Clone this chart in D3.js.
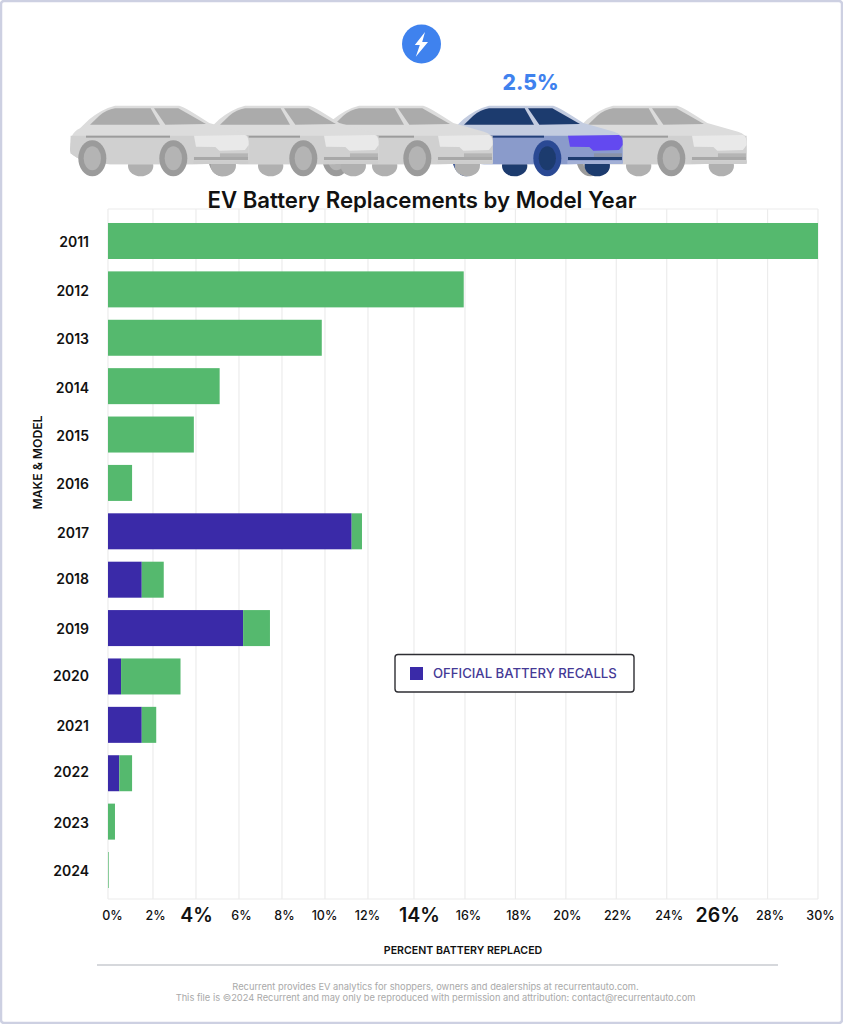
<!DOCTYPE html>
<html>
<head>
<meta charset="utf-8">
<script src="https://cdn.jsdelivr.net/npm/d3@7"></script>
<style>
html,body{margin:0;padding:0;background:#fff;}
svg{display:block;}
text{font-family:Inter,"Open Sans",sans-serif;}
</style>
</head>
<body>
<svg id="chart" width="843" height="1024"></svg>
<script>
const modelYears = ["2011","2012","2013","2014","2015","2016","2017","2018","2019","2020","2021","2022","2023","2024"];
const officialRecalls = [0,0,0,0,0,0,11.24,1.5,6.19,0.58,1.5,0.5,0,0];
const otherReplacements = [30,15.95,9.85,5.1,3.9,1.07,0.48,1.0,1.25,2.7,0.65,0.57,0.31,0.03];
const percentTicks = [0,2,4,6,8,10,12,14,16,18,20,22,24,26,28,30];
const emphasisedTicks = [4,14,26];
const highlightValue = "2.5%";
const titleText = "EV Battery Replacements by Model Year";
const legendText = "OFFICIAL BATTERY RECALLS";
const xTitle = "PERCENT BATTERY REPLACED";
const yTitle = "MAKE & MODEL";
const footerLines = ["Recurrent provides EV analytics for shoppers, owners and dealerships at recurrentauto.com.",
  "This file is ©2024 Recurrent and may only be reproduced with permission and attribution: contact@recurrentauto.com"];

const svg = d3.select("#chart");
const defs = svg.append("defs");
defs.append("filter").attr("id","soft").append("feGaussianBlur").attr("stdDeviation",1.6);

// page frame
svg.append("rect").attr("x",1).attr("y",1).attr("width",841).attr("height",1022).attr("rx",3)
  .attr("fill","#fff").attr("stroke","#cdd0e2").attr("stroke-width",2.5);

// scales: the source's x axis is not evenly spaced, its segments differ
const x = d3.scaleLinear().domain([0,2,12,14,16,30]).range([108,153,368,414,465,818]);
const y = d3.scaleBand().domain(modelYears).range([216.8,894.2]).paddingInner(0.256).paddingOuter(0.128);

// grid
const plotTop = 209, plotBottom = 899;
const grid = svg.append("g");
grid.selectAll("line.v").data(percentTicks).join("line").attr("class","v")
  .attr("x1",d=>x(d)).attr("x2",d=>x(d)).attr("y1",plotTop).attr("y2",plotBottom)
  .attr("stroke","#ececec").attr("stroke-width",1.2);
grid.selectAll("line.h").data([plotTop,plotBottom]).join("line").attr("class","h")
  .attr("x1",x(0)).attr("x2",x(30)).attr("y1",d=>d).attr("y2",d=>d)
  .attr("stroke","#ececec").attr("stroke-width",1.2);

// bars
const rows = modelYears.map((year,i)=>({year,recall:officialRecalls[i],other:otherReplacements[i]}));
const stacked = d3.stack().keys(["recall","other"])(rows);
const fills = {recall:"#3a2aa8",other:"#55b96e"};
svg.append("g").selectAll("g").data(stacked).join("g").attr("fill",s=>fills[s.key])
  .selectAll("rect").data(s=>s.filter(d=>d[1]>d[0])).join("rect")
  .attr("x",d=>x(d[0])).attr("width",d=>x(d[1])-x(d[0]))
  .attr("y",d=>y(d.data.year)).attr("height",y.bandwidth());

// y axis
const yNudge = {"2018":-2,"2019":-1,"2020":-2,"2022":-3};
const yAxis = svg.append("g").attr("transform",`translate(${x(0)},0)`).call(d3.axisLeft(y).tickSize(0).tickPadding(19));
yAxis.select(".domain").remove();
yAxis.selectAll("text").attr("transform",d=>`translate(0,${2+(yNudge[d]||0)})`)
  .attr("font-size",14).attr("font-weight",600).attr("fill","#111").style("font-family","Inter");

// x axis
const labelNudge = {0:4,2:2,4:0,6:2,8:2,10:-1,12:-1,14:5,16:3,18:3,20:1,22:1,24:2,26:0,28:2,30:2};
const xAxis = svg.append("g").attr("transform",`translate(0,${plotBottom})`)
  .call(d3.axisBottom(x).tickValues(percentTicks).tickFormat(d=>d+"%").tickSize(0).tickPadding(0));
xAxis.select(".domain").remove();
xAxis.selectAll("text")
  .attr("dy",null).attr("dominant-baseline","central")
  .attr("y",16).attr("dx",d=>labelNudge[d])
  .attr("font-size",d=>emphasisedTicks.includes(d)?19.5:12.5)
  .attr("font-weight",d=>emphasisedTicks.includes(d)?600:500)
  .attr("fill","#111").style("font-family","Inter");

svg.append("text").attr("x",463).attr("y",950).attr("text-anchor","middle").attr("dominant-baseline","central")
  .attr("font-size",10.6).attr("font-weight",600).attr("fill","#111").text(xTitle);
svg.append("text").attr("transform","translate(37,462.5) rotate(-90)").attr("text-anchor","middle").attr("dominant-baseline","central")
  .attr("font-size",12.2).attr("font-weight",600).attr("fill","#111").text(yTitle);

// legend
const legend = svg.append("g");
legend.append("rect").attr("x",395).attr("y",654.5).attr("width",239).attr("height",37.5).attr("rx",3)
  .attr("fill","#fff").attr("stroke","#2e2e33").attr("stroke-width",1.4);
legend.append("rect").attr("x",410).attr("y",667).attr("width",13).attr("height",13).attr("fill",fills.recall);
legend.append("text").attr("x",433).attr("y",673).attr("dominant-baseline","central")
  .attr("font-size",13.15).attr("font-weight",500).attr("fill","#453a96").text(legendText);

// footer
svg.append("line").attr("x1",97).attr("x2",778).attr("y1",965).attr("y2",965).attr("stroke","#c9cbd0").attr("stroke-width",1.3);
svg.selectAll("text.foot").data(footerLines).join("text").attr("class","foot")
  .attr("x",435.5).attr("y",(d,i)=>986+i*11.2).attr("text-anchor","middle").attr("dominant-baseline","central")
  .attr("font-size",9.3).attr("fill","#a9a9a9").text(d=>d);

// badge
const badge = svg.append("g").attr("transform","translate(421.5,44)");
badge.append("circle").attr("r",19.5).attr("fill","#3f82ee");
badge.append("path").attr("d","M3.5,-12 L-6.7,1 L-1.7,1 L-5.7,12.7 L6.5,-2 L0.7,-2 Z").attr("fill","#fff");
svg.append("text").attr("x",530.5).attr("y",82).attr("text-anchor","middle").attr("dominant-baseline","central")
  .attr("font-size",21).attr("font-weight",800).attr("fill","#3f82ee").text(highlightValue);

// car illustration, drawn in a 600x270 box at one third scale
const greyCar = {far:"#b0b0b0",top:"#dcdcdc",body:"#d0d0d0",glass:"#ababab",stripe:"#9c9c9c",lamp:"#e9e9e9",grille:"#b5b5b5",trim:"#a8a8a8",sill:"#cdcdcd",tyre:"#9b9b9b",hub:"#b4b4b4"};
const blueCar = {far:"#1f3a6e",top:"#c3cce0",body:"#8a9bcb",glass:"#1f3a6e",stripe:"#24407a",lamp:"#6348f0",grille:"#8a93a8",trim:"#1f3a6e",sill:"#a3b0d6",tyre:"#2b4a94",hub:"#1f3a6e"};
function drawCar(dx,c){
  const g = svg.append("g").attr("transform",`translate(${60+dx},95) scale(0.3333)`).attr("filter","url(#soft)");
  [[242,212],[490,212]].forEach(p=>{
    g.append("ellipse").attr("cx",p[0]).attr("cy",p[1]).attr("rx",38).attr("ry",32).attr("fill",c.far);
  });
  // body silhouette
  g.append("path").attr("fill",c.top)
    .attr("d","M30,165 L35,125 Q42,108 60,100 L88,73 Q125,42 165,32 L358,32 Q378,38 448,84 L540,110 Q566,118 566,136 L566,205 L400,208 L150,208 Q60,203 32,175 Z");
  g.append("path").attr("fill",c.body)
    .attr("d","M32,122 L566,122 L566,205 L400,208 L150,208 Q60,203 32,175 L30,165 Z");
  g.append("path").attr("fill",c.glass).attr("d","M90,89 L118,62 Q140,44 165,40 L272,40 L300,89 Z");
  g.append("path").attr("fill",c.glass).attr("d","M282,40 L355,40 L438,87 L316,89 Z");
  g.append("rect").attr("x",78).attr("y",122).attr("width",252).attr("height",6).attr("fill",c.stripe);
  g.append("path").attr("fill",c.lamp).attr("d","M402,122 L555,120 Q568,125 566,150 L555,165 L478,167 L466,156 L408,155 Z");
  g.append("rect").attr("x",480).attr("y",175).attr("width",84).attr("height",12).attr("fill",c.grille);
  g.append("rect").attr("x",402).attr("y",186).attr("width",162).attr("height",9).attr("fill",c.trim);
  g.append("rect").attr("x",400).attr("y",197).attr("width",166).attr("height",10).attr("fill",c.sill);
  [97,340].forEach(cx=>{
    g.append("ellipse").attr("cx",cx).attr("cy",190).attr("rx",42).attr("ry",54).attr("fill",c.tyre);
    g.append("ellipse").attr("cx",cx).attr("cy",190).attr("rx",26).attr("ry",36).attr("fill",c.hub);
  });
}
const carSlots = [498,374,244,130,0];
const highlightSlot = 374;
carSlots.forEach(dx=>drawCar(dx, dx===highlightSlot?blueCar:greyCar));

// title
svg.append("text").attr("x",422).attr("y",207.5).attr("text-anchor","middle")
  .attr("font-size",22.2).attr("font-weight",600).attr("fill","#111").text(titleText);
</script>
</body>
</html>
